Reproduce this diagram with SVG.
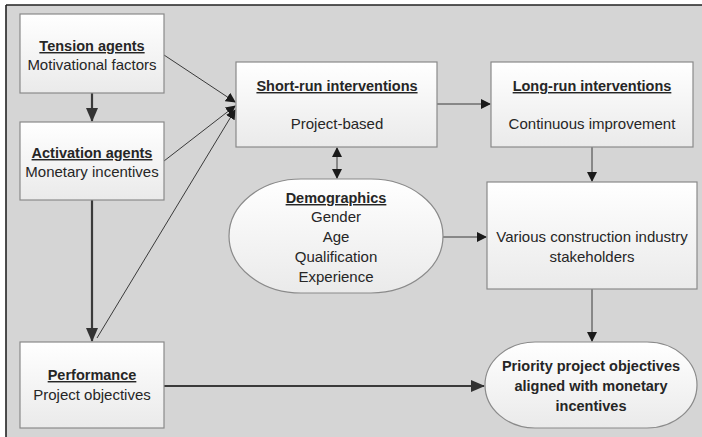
<svg xmlns="http://www.w3.org/2000/svg" width="702" height="437" viewBox="0 0 702 437">
<defs>
<linearGradient id="g" x1="0" y1="0" x2="0" y2="1">
<stop offset="0" stop-color="#ffffff"/>
<stop offset="1" stop-color="#eaeaea"/>
</linearGradient>
<marker id="ah" markerWidth="10" markerHeight="10" refX="9" refY="5" orient="auto" markerUnits="userSpaceOnUse">
<path d="M0,0 L10,5 L0,10 Z" fill="#1a1a1a"/>
</marker>
<marker id="ahs" markerWidth="10" markerHeight="10" refX="1" refY="5" orient="auto" markerUnits="userSpaceOnUse">
<path d="M10,0 L0,5 L10,10 Z" fill="#1a1a1a"/>
</marker>
<marker id="ahb" markerWidth="14" markerHeight="12" refX="13" refY="6" orient="auto" markerUnits="userSpaceOnUse">
<path d="M0,0 L14,6 L0,12 Z" fill="#333"/>
</marker>
</defs>
<style>
.box{fill:url(#g);stroke:#8a8a8a;stroke-width:1.2}
.t{font-family:"Liberation Sans",Arial,sans-serif;font-size:15px;fill:#262626;text-anchor:middle}
.h{font-weight:bold;font-size:14.5px;text-decoration:underline}
.b{font-weight:bold;font-size:14.5px}
.thin{stroke:#3a3a3a;stroke-width:1;fill:none}
.thick{stroke:#3a3a3a;stroke-width:2.2;fill:none}
</style>
<rect x="0" y="0" width="702" height="437" fill="#ffffff"/>
<rect x="6" y="5" width="696" height="432" fill="#d5d5d5"/>
<line x1="6" y1="5" x2="702" y2="5" stroke="#222" stroke-width="1.6"/>
<line x1="6" y1="5" x2="6" y2="437" stroke="#222" stroke-width="1.6"/>

<g id="connectors">
<line class="thick" x1="92" y1="93" x2="92" y2="121" marker-end="url(#ahb)"/>
<line class="thick" x1="92" y1="200" x2="92" y2="341" marker-end="url(#ahb)"/>
<line class="thin" x1="164" y1="55" x2="235" y2="102" marker-end="url(#ah)"/>
<line class="thin" x1="164" y1="161" x2="235" y2="106" marker-end="url(#ah)"/>
<line class="thin" x1="97" y1="338" x2="235" y2="110" marker-end="url(#ah)"/>
<line class="thin" x1="437" y1="104" x2="490" y2="104" marker-end="url(#ah)"/>
<line class="thin" x1="337" y1="148" x2="337" y2="178" marker-start="url(#ahs)" marker-end="url(#ah)"/>
<line class="thin" x1="443" y1="237" x2="486" y2="237" marker-end="url(#ah)"/>
<line class="thin" x1="592" y1="147" x2="592" y2="181" marker-end="url(#ah)"/>
<line class="thin" x1="592" y1="289" x2="592" y2="341" marker-end="url(#ah)"/>
<line class="thick" x1="164" y1="386" x2="484" y2="386" marker-end="url(#ahb)"/>
</g>

<g id="tension">
<rect class="box" x="20" y="14" width="144" height="79"/>
<text class="t h" x="92" y="51">Tension agents</text>
<text class="t" x="92" y="70">Motivational factors</text>
</g>
<g id="activation">
<rect class="box" x="20" y="122" width="144" height="78"/>
<text class="t h" x="92" y="158">Activation agents</text>
<text class="t" x="92" y="177">Monetary incentives</text>
</g>
<g id="performance">
<rect class="box" x="20" y="342" width="144" height="86"/>
<text class="t h" x="92" y="380">Performance</text>
<text class="t" x="92" y="400">Project objectives</text>
</g>
<g id="shortrun">
<rect class="box" x="236" y="62" width="201" height="85"/>
<text class="t h" x="337" y="91">Short-run interventions</text>
<text class="t" x="337" y="129">Project-based</text>
</g>
<g id="longrun">
<rect class="box" x="491" y="62" width="202" height="85"/>
<text class="t h" x="592" y="91">Long-run interventions</text>
<text class="t" x="592" y="129">Continuous improvement</text>
</g>
<g id="demographics">
<rect class="box" x="229" y="179" width="214" height="114" rx="72" ry="57"/>
<text class="t h" x="336" y="203">Demographics</text>
<text class="t" x="336" y="222">Gender</text>
<text class="t" x="336" y="242">Age</text>
<text class="t" x="336" y="262">Qualification</text>
<text class="t" x="336" y="282">Experience</text>
</g>
<g id="stakeholders">
<rect class="box" x="487" y="182" width="210" height="107"/>
<text class="t" x="592" y="242">Various construction industry</text>
<text class="t" x="592" y="262">stakeholders</text>
</g>
<g id="priority">
<rect class="box" x="485" y="342" width="212" height="86" rx="50" ry="43"/>
<text class="t b" x="591" y="371">Priority project objectives</text>
<text class="t b" x="591" y="391">aligned with monetary</text>
<text class="t b" x="591" y="411">incentives</text>
</g>
</svg>
